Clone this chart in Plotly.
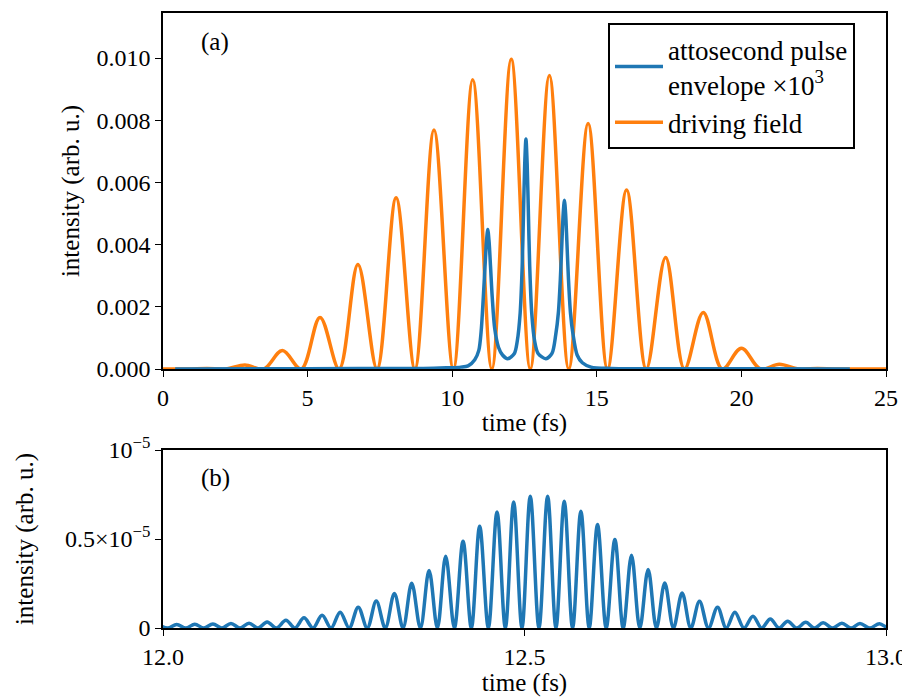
import plotly.graph_objects as go

# ---------------- data ----------------
# (a) driving field: lobe peaks and the zeros between them (fs, intensity)
drive_peak_t = [1.52, 2.83, 4.13, 5.43, 6.74, 8.06, 9.37, 10.71, 12.04, 13.36,
                14.70, 16.03, 17.38, 18.68, 20.00, 21.31, 22.63]
drive_peak_v = [0.00002, 0.00013, 0.000595, 0.00166, 0.00336, 0.00551, 0.00769,
                0.00930, 0.00996, 0.00944, 0.00790, 0.00576, 0.00359, 0.00182,
                0.00067, 0.000155, 0.00002]
drive_zero_t = [0.0, 0.86, 2.18, 3.48, 4.78, 6.09, 7.40, 8.71, 10.04, 11.37, 12.70,
                14.03, 15.37, 16.71, 18.03, 19.34, 20.66, 21.97, 23.30, 25.0]

# (a) attosecond pulse envelope x 1e3
env_t = [0.42, 5.0, 9.0, 9.8, 10.3, 10.55, 10.78, 10.92, 11.00, 11.075, 11.135,
         11.185, 11.23, 11.275, 11.325, 11.385, 11.47, 11.60, 11.74, 11.92,
         12.15, 12.25, 12.35, 12.42, 12.465, 12.508, 12.55, 12.592, 12.635, 12.68,
         12.75, 12.85, 12.97, 13.24,
         13.45, 13.58, 13.67, 13.74, 13.795, 13.838, 13.88, 13.922, 13.965, 14.02,
         14.09, 14.18, 14.32, 14.5, 14.8, 15.5, 17.0, 23.75]
env_v = [0.0, 0.00001, 0.00002, 0.00004, 0.00006, 0.0001, 0.0003, 0.0006, 0.0012,
         0.0023, 0.0033, 0.0041, 0.00449, 0.0041, 0.0033, 0.0023, 0.0013, 0.0007,
         0.00045, 0.00033,
         0.0005, 0.0009, 0.0018, 0.0033, 0.0050, 0.0066, 0.0074, 0.0066, 0.0050,
         0.0033, 0.0018, 0.0009, 0.0005, 0.00033,
         0.0005, 0.0011, 0.0018, 0.0029, 0.0041, 0.0050, 0.00543, 0.0050, 0.0041,
         0.0029, 0.0018, 0.0011, 0.00045, 0.0002, 0.00006, 0.00002, 0.00001, 0.0]

# (b) attosecond pulse intensity: oscillation peaks (units of 1e-5) and zeros
pulse_peak_t = [11.994, 12.019, 12.044, 12.069, 12.094, 12.119, 12.144, 12.170,
                12.195, 12.220, 12.245, 12.270, 12.295, 12.320, 12.344, 12.368,
                12.391, 12.415, 12.438, 12.462, 12.485, 12.508, 12.532, 12.555,
                12.578, 12.601, 12.625, 12.648, 12.671, 12.694, 12.718, 12.742,
                12.767, 12.791, 12.816, 12.840, 12.864, 12.889, 12.913, 12.939,
                12.964, 12.991, 13.016]
pulse_peak_v = [0.019, 0.020, 0.021, 0.023, 0.025, 0.027, 0.034, 0.044, 0.057,
                0.072, 0.089, 0.117, 0.151, 0.194, 0.252, 0.323, 0.403, 0.488,
                0.572, 0.652, 0.708, 0.740, 0.740, 0.712, 0.656, 0.581, 0.497,
                0.409, 0.329, 0.253, 0.197, 0.150, 0.117, 0.089, 0.066, 0.051,
                0.038, 0.032, 0.029, 0.027, 0.025, 0.024, 0.023]
pulse_zero_t = [12.0065, 12.0315, 12.0565, 12.0815, 12.1065, 12.1315, 12.157,
                12.1825, 12.2075, 12.2325, 12.2575, 12.2825, 12.3075, 12.332,
                12.356, 12.3795, 12.403, 12.4265, 12.45, 12.4735, 12.4965, 12.52,
                12.5435, 12.5665, 12.5895, 12.613, 12.6365, 12.6595, 12.6825,
                12.706, 12.73, 12.7545, 12.779, 12.8035, 12.828, 12.852, 12.8765,
                12.901, 12.926, 12.9515, 12.9775, 13.0035]
pulse_scale = 1e-5

top_xticks = [0, 5, 10, 15, 20, 25]
top_yticks = [0.0, 0.002, 0.004, 0.006, 0.008, 0.010]
top_yticklabels = ["0.000", "0.002", "0.004", "0.006", "0.008", "0.010"]
bot_xticks = [12.0, 12.5, 13.0]
bot_xticklabels = ["12.0", "12.5", "13.0"]
bot_yticks = [0.0, 0.5e-5, 1e-5]
bot_yticklabels = ["0", "0.5\u00d710<sup>\u22125</sup>", "10<sup>\u22125</sup>"]

# ---------------- assemble curves ----------------
def merge(pt, pv, zt):
    pts = [(t, v) for t, v in zip(pt, pv)] + [(t, 0.0) for t in zt]
    pts.sort()
    return [p[0] for p in pts], [p[1] for p in pts]

drive_x, drive_y = merge(drive_peak_t, drive_peak_v, drive_zero_t)
pulse_x, pulse_y = merge(pulse_peak_t, [v * pulse_scale for v in pulse_peak_v], pulse_zero_t)

BLUE = "#1f77b4"
ORANGE = "#ff7f0e"
FONT = "'Liberation Serif', 'Times New Roman', serif"
FS = 25
LW = 3.5

fig = go.Figure()
fig.add_trace(go.Scatter(x=drive_x, y=drive_y, mode="lines", name="driving field",
                         line=dict(color=ORANGE, width=LW, shape="spline", smoothing=1.0),
                         legendrank=2, xaxis="x", yaxis="y"))
fig.add_trace(go.Scatter(x=env_t, y=env_v, mode="lines",
                         name="attosecond pulse<br>envelope \u00d710<sup>3</sup>",
                         line=dict(color=BLUE, width=LW, shape="spline", smoothing=0.8),
                         legendrank=1, xaxis="x", yaxis="y"))
fig.add_trace(go.Scatter(x=pulse_x, y=pulse_y, mode="lines", showlegend=False,
                         line=dict(color=BLUE, width=LW, shape="spline", smoothing=1.0),
                         xaxis="x2", yaxis="y2"))

# the page puts the figure 8 px in from the window's top-left corner
OFF = 8
W, H = 910 - OFF, 697 - OFF
def px(x):
    return (x - OFF) / W
def py(y):
    return 1 - (y - OFF) / H

L, R = 163, 886
axcommon = dict(showline=True, linecolor="black", linewidth=1.6, mirror=True,
                ticks="outside", ticklen=6, tickwidth=1.3, tickcolor="black",
                showgrid=False, zeroline=False, automargin=False,
                tickfont=dict(family=FONT, size=FS - 1, color="black"))

fig.update_layout(
    width=W, height=H,
    margin=dict(l=0, r=0, t=0, b=0),
    paper_bgcolor="white", plot_bgcolor="white",
    font=dict(family=FONT, size=FS, color="black"),
    xaxis=dict(domain=[px(L), px(R)], range=[0, 25], anchor="y",
               tickvals=top_xticks,
               title=dict(text="time (fs)", standoff=4, font=dict(family=FONT, size=FS)),
               **axcommon),
    yaxis=dict(domain=[py(369), py(13)], range=[0, 0.01145], anchor="x",
               tickvals=top_yticks, ticktext=top_yticklabels,
               title=dict(text="intensity (arb. u.)", standoff=10,
                          font=dict(family=FONT, size=FS)),
               **axcommon),
    xaxis2=dict(domain=[px(L), px(R)], range=[12.0, 13.0], anchor="y2",
                tickvals=bot_xticks, ticktext=bot_xticklabels,
                title=dict(text="time (fs)", standoff=2, font=dict(family=FONT, size=FS)),
                **axcommon),
    yaxis2=dict(domain=[py(628), py(450)], range=[0, 1e-5], anchor="x2",
                tickvals=bot_yticks, ticktext=bot_yticklabels,
                title=dict(text="intensity (arb. u.)", standoff=24,
                           font=dict(family=FONT, size=FS)),
                **axcommon),
    legend=dict(x=px(608), y=py(23), xanchor="left", yanchor="top",
                bordercolor="black", borderwidth=2, bgcolor="white",
                font=dict(family=FONT, size=FS + 2, color="black"),
                itemwidth=48, tracegroupgap=0),
    annotations=[
        dict(text="(a)", x=px(215), y=py(42), xref="paper", yref="paper",
             xanchor="center", yanchor="middle",
             showarrow=False, font=dict(family=FONT, size=FS)),
        dict(text="(b)", x=px(215), y=py(478), xref="paper", yref="paper",
             xanchor="center", yanchor="middle",
             showarrow=False, font=dict(family=FONT, size=FS)),
    ],
)

fig.write_html("out.html")
